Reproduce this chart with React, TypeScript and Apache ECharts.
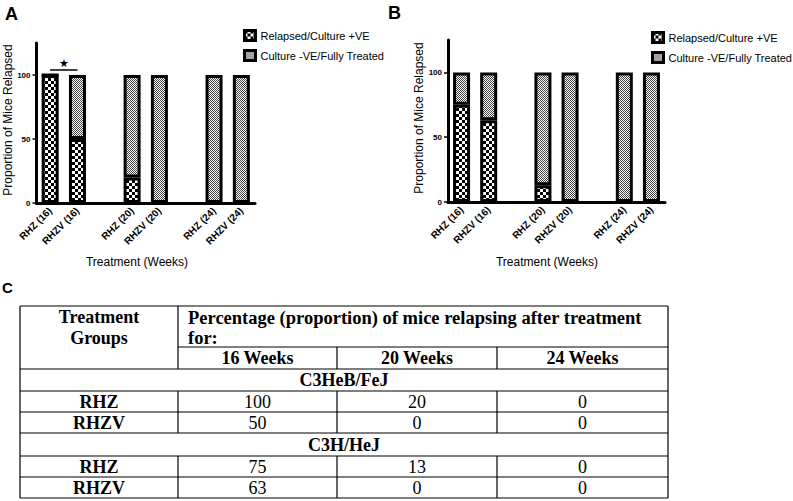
import React, { useEffect, useRef } from "react";
import * as echarts from "echarts";

// ---------- data ----------
const categories = ["RHZ (16)", "RHZV (16)", "", "RHZ (20)", "RHZV (20)", "", "RHZ (24)", "RHZV (24)"];
const relapsedA = [100, 50, null, 20, 0, null, 0, 0];
const negativeA = [0, 50, null, 80, 100, null, 100, 100];
const relapsedB = [75, 63, null, 13, 0, null, 0, 0];
const negativeB = [25, 37, null, 87, 100, null, 100, 100];
const seriesNames = ["Relapsed/Culture +VE", "Culture -VE/Fully Treated"];
const yTicks = [0, 50, 100];
const yMax = 125;
const weekHeaders = ["16 Weeks", "20 Weeks", "24 Weeks"];
const strains = ["C3HeB/FeJ", "C3H/HeJ"];
const groupNames = ["RHZ", "RHZV"];
// table values (percentage relapsing)
const tableC3HeB_RHZ = [100, 20, 0];
const tableC3HeB_RHZV = [50, 0, 0];
const tableC3H_RHZ = [75, 13, 0];
const tableC3H_RHZV = [63, 0, 0];

const SANS = '"Liberation Sans", Arial, Helvetica, sans-serif';
const SERIF = '"Liberation Serif", "Times New Roman", serif';

function makeChecker(size: number, cell: number, dark: string, light: string) {
  const c = document.createElement("canvas");
  c.width = size;
  c.height = size;
  const ctx = c.getContext("2d")!;
  ctx.fillStyle = light;
  ctx.fillRect(0, 0, size, size);
  ctx.fillStyle = dark;
  for (let y = 0; y < size; y += cell)
    for (let x = 0; x < size; x += cell)
      if ((x / cell + y / cell) % 2 === 0) ctx.fillRect(x, y, cell, cell);
  return { image: c.toDataURL(), repeat: "repeat", imageWidth: size, imageHeight: size };
}

export default function App() {
  const ref = useRef<HTMLDivElement>(null);
  useEffect(() => {
    const chart = echarts.init(ref.current!, null, { renderer: "svg" });
    const coarse = makeChecker(6, 3, "#000", "#fff");
    const fine = makeChecker(2, 1, "#444", "#fff");

    const grids = [
      { left: 36.5, top: 43, width: 218.5, height: 160 },
      { left: 448, top: 40, width: 217, height: 162 },
    ];

    const xAxisBase = (gi: number) => ({
      gridIndex: gi,
      type: "category",
      data: categories,
      axisLine: { lineStyle: { color: "#000", width: 3 } },
      axisTick: { show: false },
      axisLabel: {
        rotate: 45,
        interval: 0,
        fontSize: 10,
        fontWeight: "bold",
        fontFamily: SANS,
        color: "#000",
        margin: 6,
      },
    });
    const yAxisBase = (gi: number) => ({
      gridIndex: gi,
      type: "value",
      min: 0,
      max: yMax,
      interval: 50,
      axisLine: { show: true, lineStyle: { color: "#000", width: 3 } },
      axisTick: { show: true, length: 4, customValues: yTicks, lineStyle: { color: "#000", width: 1.5 } },
      axisLabel: {
        customValues: yTicks,
        fontSize: 8,
        fontWeight: "bold",
        fontFamily: SANS,
        color: "#000",
        margin: 6,
      },
      splitLine: { show: false },
    });

    const barBase = {
      type: "bar",
      barWidth: 17,
      silent: true,
      emphasis: { disabled: true },
    };
    const mkSeries = (gi: number, stack: string, rel: any[], neg: any[], withStar: boolean) => [
      {
        ...barBase,
        name: seriesNames[0],
        xAxisIndex: gi,
        yAxisIndex: gi,
        stack,
        data: rel,
        itemStyle: { color: coarse, borderColor: "#000", borderWidth: 3 },
        ...(withStar
          ? {
              markLine: {
                silent: true,
                symbol: ["none", "none"],
                lineStyle: { color: "#000", width: 1.5, type: "solid" },
                label: {
                  show: true,
                  position: "insideMiddleTop",
                  formatter: "★",
                  fontSize: 11,
                  color: "#000",
                  distance: 1,
                },
                data: [[{ coord: [categories[0], 104] }, { coord: [categories[1], 104] }]],
              },
            }
          : {}),
      },
      {
        ...barBase,
        name: seriesNames[1],
        xAxisIndex: gi,
        yAxisIndex: gi,
        stack,
        data: neg,
        itemStyle: { color: fine, borderColor: "#000", borderWidth: 3 },
      },
    ];

    const legendBase = {
      data: seriesNames,
      orient: "vertical",
      icon: "rect",
      itemWidth: 11,
      itemHeight: 10,
      itemGap: 7,
      selectedMode: false,
      itemStyle: { borderColor: "#000", borderWidth: 3 },
      textStyle: { fontSize: 11, color: "#000", fontFamily: SANS },
    };

    // ---- graphic: panel letters, axis names, table ----
    const g: any[] = [];
    const txt = (text: string, x: number, y: number, font: string, align = "left", rotation = 0) =>
      g.push({
        type: "text",
        x,
        y,
        rotation,
        silent: true,
        style: { text, font, fill: "#000", textAlign: align, textVerticalAlign: "middle" },
      });
    txt("A", 5, 13.5, `bold 18px ${SANS}`);
    txt("B", 388, 12.5, `bold 18px ${SANS}`);
    txt("C", 2, 287.5, `bold 15px ${SANS}`);
    txt("Proportion of Mice Relapsed", 8, 120, `12px ${SANS}`, "center", Math.PI / 2);
    txt("Proportion of Mice Relapsed", 419, 118, `12px ${SANS}`, "center", Math.PI / 2);
    txt("Treatment (Weeks)", 137, 262, `12px ${SANS}`, "center");
    txt("Treatment (Weeks)", 547, 262, `12px ${SANS}`, "center");

    // table layout
    const cols = [20, 178, 337, 497, 668];
    const rows = [306, 347, 369, 391, 412, 433, 456, 477, 498];
    const line = (x1: number, y1: number, x2: number, y2: number) =>
      g.push({
        type: "line",
        silent: true,
        shape: { x1, y1, x2, y2 },
        style: { stroke: "#000", lineWidth: 1.2 },
      });
    const L = cols[0], R = cols[4];
    line(L, rows[0], R, rows[0]);
    line(L, rows[8], R, rows[8]);
    line(L, rows[0], L, rows[8]);
    line(R, rows[0], R, rows[8]);
    line(cols[1], rows[0], cols[1], rows[2]);
    line(cols[1], rows[1], R, rows[1]);
    line(cols[2], rows[1], cols[2], rows[2]);
    line(cols[3], rows[1], cols[3], rows[2]);
    for (let r = 2; r <= 7; r++) line(L, rows[r], R, rows[r]);
    const bodyBlocks = [
      { strainRow: 2, groupRows: [3, 4], vals: [tableC3HeB_RHZ, tableC3HeB_RHZV] },
      { strainRow: 5, groupRows: [6, 7], vals: [tableC3H_RHZ, tableC3H_RHZV] },
    ];
    bodyBlocks.forEach((b) => {
      for (let c = 1; c <= 3; c++) line(cols[c], rows[b.groupRows[0]], cols[c], rows[b.groupRows[1] + 1]);
    });
    const bold = `bold 18px ${SERIF}`;
    const reg = `18px ${SERIF}`;
    const cx = (c: number) => (cols[c] + cols[c + 1]) / 2;
    const cy = (r: number) => (rows[r] + rows[r + 1]) / 2;
    txt("Treatment", cx(0), 317, bold, "center");
    txt("Groups", cx(0), 338, bold, "center");
    txt("Percentage (proportion) of mice relapsing after treatment", cols[1] + 10, 318, `bold 18.5px ${SERIF}`, "left");
    txt("for:", cols[1] + 10, 338, `bold 18.5px ${SERIF}`, "left");
    weekHeaders.forEach((w, i) => txt(w, cx(i + 1), cy(1), bold, "center"));
    bodyBlocks.forEach((b, si) => {
      txt(strains[si], (L + R) / 2, cy(b.strainRow), bold, "center");
      b.groupRows.forEach((r, gi) => {
        txt(groupNames[gi], cx(0), cy(r), bold, "center");
        b.vals[gi].forEach((v, wi) => txt(String(v), cx(wi + 1), cy(r), reg, "center"));
      });
    });

    chart.setOption({
      animation: false,
      backgroundColor: "#fff",
      textStyle: { fontFamily: SANS },
      grid: grids,
      xAxis: [xAxisBase(0), xAxisBase(1)],
      yAxis: [yAxisBase(0), yAxisBase(1)],
      legend: [
        { ...legendBase, left: 238, top: 24 },
        { ...legendBase, left: 646, top: 26 },
      ],
      series: [
        ...mkSeries(0, "a", relapsedA, negativeA, true),
        ...mkSeries(1, "b", relapsedB, negativeB, false),
      ],
      graphic: g,
    });
    return () => chart.dispose();
  }, []);
  return (
    <div
      ref={ref}
      style={{ position: "fixed", left: 0, top: 0, width: 793, height: 501, background: "#fff" }}
    />
  );
}
